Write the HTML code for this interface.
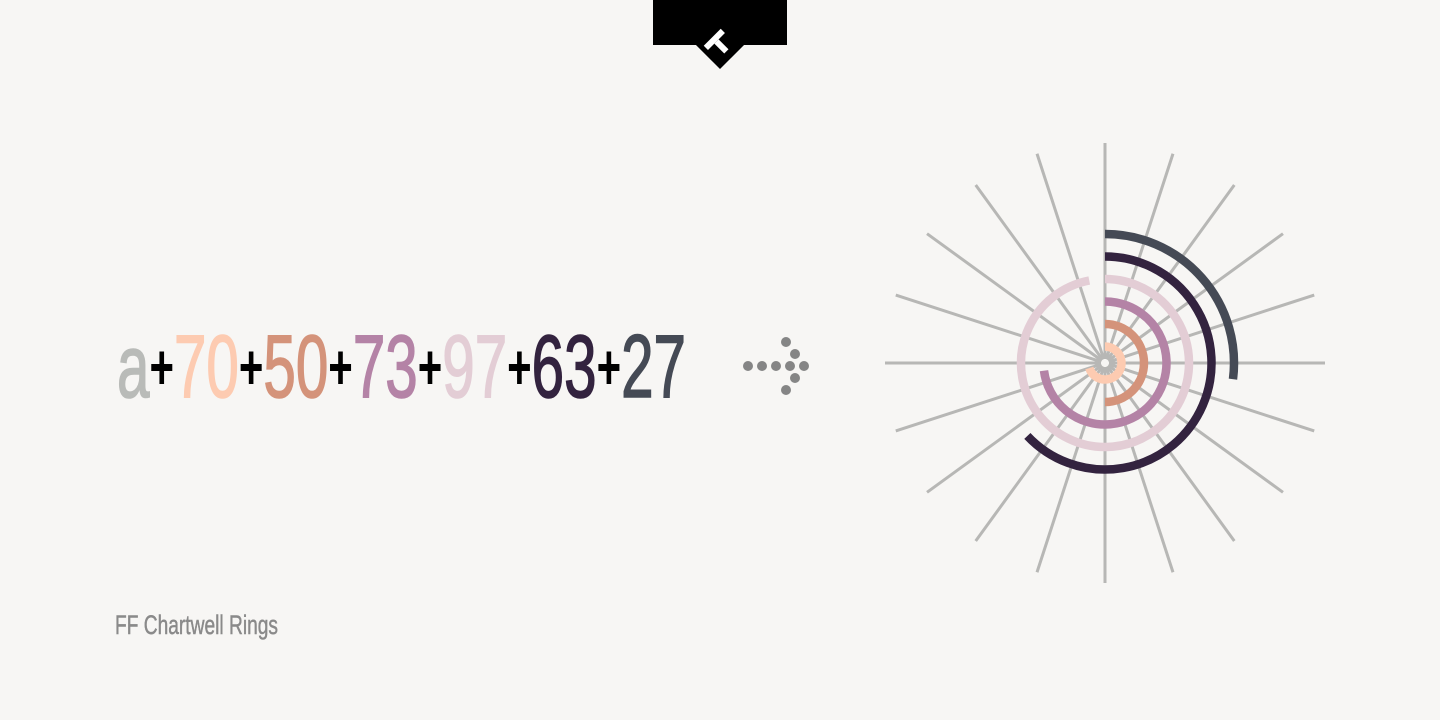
<!DOCTYPE html>
<html><head><meta charset="utf-8"><style>
html,body{margin:0;padding:0;background:#f7f6f4;}
svg{display:block}
</style></head><body>
<svg width="1440" height="720" viewBox="0 0 1440 720">
<rect width="1440" height="720" fill="#f7f6f4"/>
<g>
<rect x="653" y="0" width="134" height="45" fill="#000"/>
<rect x="703" y="28" width="34" height="34" fill="#000" transform="rotate(45 720 45)"/>
<g transform="rotate(-45 720 45)" fill="#fff">
<rect x="708" y="34" width="24" height="6"/>
<rect x="717" y="40" width="6" height="14"/>
</g>
</g>
<text x="117" y="397" font-family="'Liberation Sans', sans-serif" font-size="89" textLength="569" lengthAdjust="spacingAndGlyphs" stroke-width="1.6"><tspan fill="#b9bbb8" stroke="#b9bbb8">a</tspan><tspan fill="#000" font-weight="bold" font-size="64" dy="-8">+</tspan><tspan fill="#fdcbb1" stroke="#fdcbb1" dy="8">70</tspan><tspan fill="#000" font-weight="bold" font-size="64" dy="-8">+</tspan><tspan fill="#d4937a" stroke="#d4937a" dy="8">50</tspan><tspan fill="#000" font-weight="bold" font-size="64" dy="-8">+</tspan><tspan fill="#b483a6" stroke="#b483a6" dy="8">73</tspan><tspan fill="#000" font-weight="bold" font-size="64" dy="-8">+</tspan><tspan fill="#e3cdd5" stroke="#e3cdd5" dy="8">97</tspan><tspan fill="#000" font-weight="bold" font-size="64" dy="-8">+</tspan><tspan fill="#33233f" stroke="#33233f" dy="8">63</tspan><tspan fill="#000" font-weight="bold" font-size="64" dy="-8">+</tspan><tspan fill="#454a55" stroke="#454a55" dy="8">27</tspan></text>
<g fill="#858585">
<circle cx="748" cy="366" r="5"/><circle cx="762" cy="366" r="5"/><circle cx="776" cy="366" r="5"/><circle cx="790" cy="366" r="5"/><circle cx="804" cy="366" r="5"/>
<circle cx="786" cy="342" r="5"/><circle cx="795" cy="354" r="5"/><circle cx="795" cy="378" r="5"/><circle cx="786" cy="390" r="5"/>
</g>
<text x="115" y="634" font-family="'Liberation Sans', sans-serif" font-size="27" fill="#8a8a8a" stroke="#8a8a8a" stroke-width="0.5" textLength="163" lengthAdjust="spacingAndGlyphs">FF Chartwell Rings</text>
<g id="chart"></g>
</svg>
<script>
const values = [70, 50, 73, 97, 63, 27];
const seriesNames = ['seventy', 'fifty', 'seventy-three', 'ninety-seven', 'sixty-three', 'twenty-seven'];
const colors = ['#fdcbb1', '#d4937a', '#b483a6', '#e3cdd5', '#33233f', '#454a55'];
const spokeCount = 20;
const cx = 1105, cy = 363, r0 = 16.5, step = 22.5, ringW = 8.5, spokeLen = 220;
const ns = 'http://www.w3.org/2000/svg';
const g = document.getElementById('chart');
function angle(v){ return v / 100 * 2 * Math.PI; }
function pt(r, a){ return [cx + r * Math.sin(a), cy - r * Math.cos(a)]; }
for (let i = 0; i < spokeCount; i++) {
  const a = i * 2 * Math.PI / spokeCount;
  const p = pt(spokeLen, a), q = pt(4, a);
  const l = document.createElementNS(ns, 'line');
  l.setAttribute('x1', q[0]); l.setAttribute('y1', q[1]);
  l.setAttribute('x2', p[0]); l.setAttribute('y2', p[1]);
  l.setAttribute('stroke', '#b7b7b5'); l.setAttribute('stroke-width', '3');
  
  
  g.appendChild(l);
}
values.forEach((v, i) => {
  const r = r0 + i * step;
  const a = angle(v);
  const s = pt(r, 0), e = pt(r, a);
  const large = v > 50 ? 1 : 0;
  const p = document.createElementNS(ns, 'path');
  p.setAttribute('d', `M${s[0]},${s[1]} A${r},${r} 0 ${large} 1 ${e[0]},${e[1]}`);
  p.setAttribute('fill', 'none'); p.setAttribute('stroke', colors[i]);
  p.setAttribute('stroke-width', ringW);
  
  
  g.appendChild(p);
});
</script>
</body></html>
